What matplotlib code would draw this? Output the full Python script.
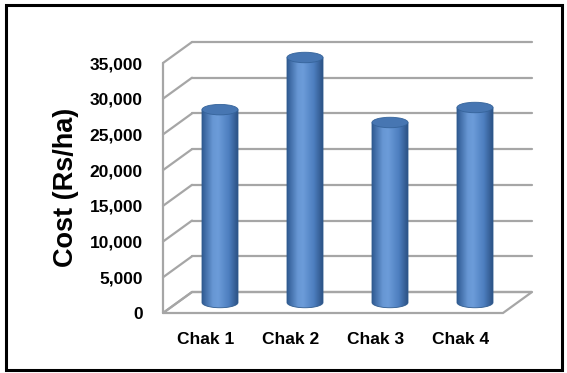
import numpy as np
import matplotlib
matplotlib.use("Agg")
import matplotlib.pyplot as plt
from matplotlib.colors import LinearSegmentedColormap
from matplotlib.patches import Ellipse, Polygon, Rectangle
from matplotlib.ticker import StrMethodFormatter

categories = ["Chak 1", "Chak 2", "Chak 3", "Chak 4"]
cost = [27000, 34300, 25200, 27300]  # Rs/ha
yticks = np.arange(0, 35001, 5000)

plt.rcParams['font.family'] = ['Liberation Sans', 'DejaVu Sans']

W, H, DPI = 567, 373, 100
FRONT_L, FRONT_B = 163, 313      # front-left-bottom corner, px from top-left
PX_CAT = 85                      # px per category
PX_VAL = 250 / 35000             # px per Rs/ha
DEPTH_X, DEPTH_Y = 29, 21        # 3d depth offset, px

dx = DEPTH_X / PX_CAT
dy = DEPTH_Y / PX_VAL
x0, x1 = -0.5, len(categories) - 0.5
xmin, xmax = x0, x1 + dx + 0.1
ymin, ymax = 0, yticks[-1] + dy + 800

fig = plt.figure(figsize=(W / DPI, H / DPI), dpi=DPI)
ax = fig.add_axes([FRONT_L / W, (H - FRONT_B) / H,
                   (xmax - xmin) * PX_CAT / W, (ymax - ymin) * PX_VAL / H])

grid_col = '#a6a6a6'
grid_kw = dict(color=grid_col, lw=1.6, clip_on=False, zorder=1, solid_capstyle='round')

# floor
ax.add_patch(Polygon([(x0, 0), (x1, 0), (x1 + dx, dy), (x0 + dx, dy)], closed=True,
                     fc='white', ec=grid_col, lw=1.6, zorder=0.9, clip_on=False))
# back wall + left wall gridlines
for v in yticks:
    ax.plot([x0 + dx, x1 + dx], [v + dy, v + dy], **grid_kw)
    ax.plot([x0, x0 + dx], [v, v + dy], **grid_kw)
ax.plot([x0, x0], [0, yticks[-1]], **grid_kw)

# cylinders
cyl_cmap = LinearSegmentedColormap.from_list(
    "cyl", [(0, '#2f5a92'), (0.3, '#6797d4'), (0.45, '#6c9cd9'), (0.75, '#4d7ebf'), (1, '#2c5184')])
grad = np.linspace(0, 1, 256)[None, :]
bw = 36 / PX_CAT
eh = 10.5 / PX_VAL
th = np.linspace(np.pi, 2 * np.pi, 80)
for i, v in enumerate(cost):
    cx = i + dx / 2
    base = dy / 2
    top = base + v
    xs = np.concatenate([[cx - bw / 2], cx + bw / 2 * np.cos(th), [cx + bw / 2]])
    ys = np.concatenate([[top], base + eh / 2 * np.sin(th), [top]])
    body = Polygon(np.column_stack([xs, ys]), closed=True, fc='none', ec='#2f5b8f',
                   lw=0.6, zorder=3)
    ax.add_patch(body)
    im = ax.imshow(grad, cmap=cyl_cmap, extent=(cx - bw / 2, cx + bw / 2, base - eh / 2, top),
                   aspect='auto', zorder=2.5, interpolation='bilinear')
    im.set_clip_path(body)
    ax.add_patch(Ellipse((cx, top), bw, eh, fc='#4776b2', ec='#35639a', lw=0.6, zorder=4))

ax.set_xlim(xmin, xmax)
ax.set_ylim(ymin, ymax)
ax.set_xticks(range(len(categories)), categories)
ax.set_yticks(yticks)
ax.yaxis.set_major_formatter(StrMethodFormatter('{x:,.0f}'))
ax.tick_params(length=0, labelsize=12.5)
ax.tick_params(axis='y', pad=14.5)
ax.tick_params(axis='x', pad=14)
for lab in ax.get_xticklabels() + ax.get_yticklabels():
    lab.set_fontweight('bold')
for s in ax.spines.values():
    s.set_visible(False)
ax.patch.set_visible(False)

fig.text(66 / W, 1 - 187 / H, "Cost (Rs/ha)", rotation=90, ha='center', va='center',
         fontsize=19.5, fontweight='bold')

fig.add_artist(Rectangle((6 / W, 1 - 370 / H), 556 / W, 365 / H, transform=fig.transFigure,
                         fill=False, ec='black', lw=2.2))

fig.savefig('out.png', dpi=DPI)
